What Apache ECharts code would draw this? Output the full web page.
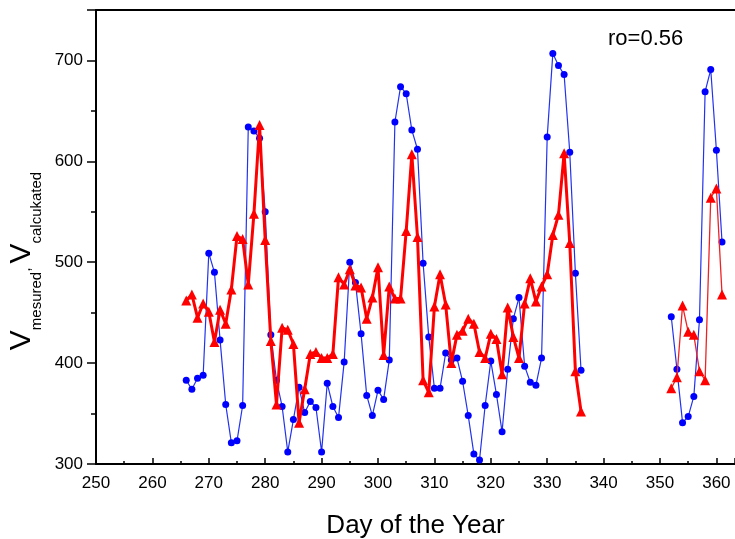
<!DOCTYPE html>
<html>
<head>
<meta charset="utf-8">
<script src="https://cdn.jsdelivr.net/npm/echarts@6/dist/echarts.min.js"></script>
<style>
html,body{margin:0;padding:0;background:#fff;}
#chart{width:735px;height:539px;}
</style>
</head>
<body>
<div id="chart"></div>
<script>
// Days of the year (first period)
var days1 = [266,267,268,269,270,271,272,273,274,275,276,277,278,279,280,281,282,283,284,285,
             286,287,288,289,290,291,292,293,294,295,296,297,298,299,300,301,302,303,304,305,
             306,307,308,309,310,311,312,313,314,315,316,317,318,319,320,321,322,323,324,325,
             326,327,328,329,330,331,332,333,334,335,336];
// Measured values (blue circles), first period
var measured1 = [383,374,385,388,509,490,423,359,321,323,358,634,630,623,550,428,383,357,312,344,
                 376,351,362,356,312,380,357,346,401,500,480,429,368,348,373,364,403,639,674,667,
                 631,612,499,426,375,375,410,403,405,382,348,310,304,358,402,369,332,394,444,465,
                 397,381,378,405,624,707,695,686,609,489,393];
// Calculated values (red triangles), first period
var calculated1 = [462,468,445,459,451,421,453,439,473,526,523,478,548,636,522,422,359,435,433,419,
                   341,374,409,411,405,405,409,485,478,493,477,475,444,465,495,408,476,464,464,531,
                   607,525,383,371,456,488,458,400,428,432,444,439,411,405,429,424,389,455,426,405,
                   459,484,461,476,488,527,547,608,519,392,352];
// Second period
var days2 = [352,353,354,355,356,357,358,359,360,361];
var measured2 = [446,394,341,347,367,443,669,691,611,520];
var calculated2 = [375,386,457,431,428,392,383,564,573,468];

var xTicks = [250,260,270,280,290,300,310,320,330,340,350,360];
var yTicks = [300,400,500,600,700];

function pairs(xs, ys){ return xs.map(function(x,i){ return [x, ys[i]]; }); }

var FONT = 'Liberation Sans, Arial, sans-serif';
var chart = echarts.init(document.getElementById('chart'), null, {renderer:'canvas'});
var option = {
  animation: false,
  backgroundColor: '#ffffff',
  grid: {left: 96, right: 0, top: 10, bottom: 75, containLabel: false, outerBoundsMode: 'none'},
  xAxis: [{
    type: 'value', min: xTicks[0], max: 363.3, interval: 10,
    name: 'Day of the Year', nameLocation: 'middle', nameGap: 49,
    nameTextStyle: {fontFamily: FONT, fontSize: 26, color: '#000'},
    axisLine: {onZero: false, lineStyle: {color: '#000', width: 2}},
    axisTick: {inside: true, length: 6, lineStyle: {color: '#000', width: 1.5}},
    minorTick: {show: true, splitNumber: 2, length: 3, lineStyle: {color: '#000', width: 1.5}},
    axisLabel: {fontFamily: FONT, fontSize: 17, color: '#000', margin: 11, showMaxLabel: false},
    splitLine: {show: false}
  },{
    type: 'value', position: 'top', min: xTicks[0], max: 363.3,
    axisLine: {onZero: false, lineStyle: {color: '#000', width: 2}},
    axisTick: {show: false}, axisLabel: {show: false}, splitLine: {show: false}
  }],
  yAxis: {
    type: 'value', min: yTicks[0], max: 750, interval: 100,
    axisLine: {show: true, onZero: false, lineStyle: {color: '#000', width: 2}},
    axisTick: {show: true, inside: false, length: 9, lineStyle: {color: '#000', width: 1.5}},
    minorTick: {show: true, splitNumber: 2, length: 5, lineStyle: {color: '#000', width: 1.5}},
    axisLabel: {fontFamily: FONT, fontSize: 17, color: '#000', margin: 13, showMaxLabel: false},
    splitLine: {show: false}
  },
  series: [
    {type: 'line', data: pairs(days1, measured1), symbol: 'circle', symbolSize: 7,
     itemStyle: {color: '#0000ff'}, lineStyle: {color: '#2233ee', width: 1.2}, z: 2},
    {type: 'line', data: pairs(days2, measured2), symbol: 'circle', symbolSize: 7,
     itemStyle: {color: '#0000ff'}, lineStyle: {color: '#2233ee', width: 1.2}, z: 2},
    {type: 'line', data: pairs(days1, calculated1), symbol: 'triangle', symbolSize: 10,
     itemStyle: {color: '#ff0000'}, lineStyle: {color: '#ff0000', width: 3}, z: 3},
    {type: 'line', data: pairs(days2, calculated2), symbol: 'triangle', symbolSize: 10,
     itemStyle: {color: '#ff0000'}, lineStyle: {color: '#ee2222', width: 1.3}, z: 3}
  ],
  graphic: [
    {type: 'text', left: 608, top: 28,
     style: {text: 'ro=0.56', fontFamily: FONT, fontSize: 22, fill: '#000'}},
    {type: 'text', x: 25.5, y: 261, rotation: Math.PI/2,
     style: {
       text: '{v|V}{s|mesured}{c|,}{sp| }{v|V}{s|calcukated}',
       align: 'center', verticalAlign: 'middle',
       rich: {
         v: {fontFamily: FONT, fontSize: 30, lineHeight: 30, verticalAlign: 'top', fill: '#000'},
         s: {fontFamily: FONT, fontSize: 15, lineHeight: 38, verticalAlign: 'bottom', fill: '#000'},
         c: {fontFamily: FONT, fontSize: 16, lineHeight: 16, verticalAlign: 'middle', fill: '#000'},
         sp: {fontFamily: FONT, fontSize: 14, lineHeight: 14, verticalAlign: 'middle', fill: '#000'}
       }
     }}
  ]
};
chart.setOption(option);
</script>
</body>
</html>
